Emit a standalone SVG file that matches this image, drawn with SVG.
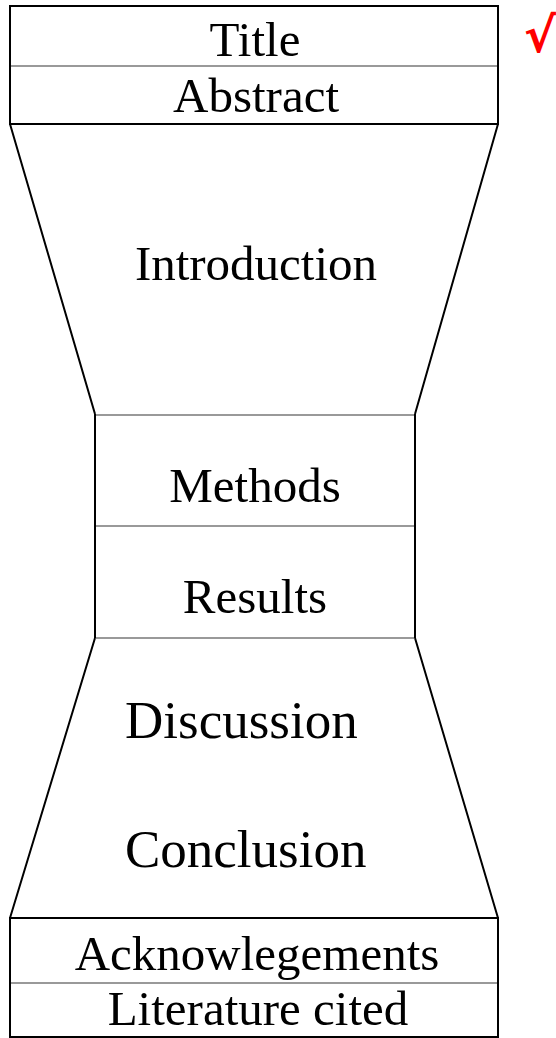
<svg xmlns="http://www.w3.org/2000/svg" width="556" height="1038" viewBox="0 0 556 1038">
<style>
.b{fill:none;stroke:#000;stroke-width:2}
.g{stroke:#999;stroke-width:2}
text{font-family:"Liberation Serif","Times New Roman",serif;font-size:49px;fill:#000}
.m{text-anchor:middle}
.ck{font-family:"DejaVu Sans","Liberation Sans",sans-serif;font-size:48px;font-weight:bold;fill:#f00}
</style>
<rect width="556" height="1038" fill="#fff"/>
<g id="top">
<rect class="b" x="10" y="6" width="488" height="118"/>
<line class="g" x1="11" y1="66" x2="497" y2="66"/>
<text class="m" x="255" y="56">Title</text>
<text class="m" x="256" y="112">Abstract</text>
</g>
<g id="introduction">
<path class="b" d="M10,124 L95,414 M498,124 L415,414"/>
<text class="m" x="256" y="280">Introduction</text>
</g>
<g id="middle">
<line class="b" x1="95" y1="414" x2="95" y2="638"/>
<line class="b" x1="415" y1="414" x2="415" y2="638"/>
<line class="g" x1="96" y1="415" x2="414" y2="415"/>
<line class="g" x1="96" y1="526" x2="414" y2="526"/>
<line class="g" x1="96" y1="638" x2="414" y2="638"/>
<text class="m" x="255" y="502">Methods</text>
<text class="m" x="255" y="613">Results</text>
</g>
<g id="discussion">
<path class="b" d="M95,638 L10,918 M415,638 L498,918"/>
<text x="125" y="738" style="font-size:53px">Discussion</text>
<text x="125" y="867" style="font-size:53px">Conclusion</text>
</g>
<g id="bottom">
<rect class="b" x="10" y="918" width="488" height="119"/>
<line class="g" x1="11" y1="983" x2="497" y2="983"/>
<text class="m" x="257" y="970">Acknowlegements</text>
<text class="m" x="258" y="1025">Literature cited</text>
</g>
<g id="check">
<text class="ck" x="524" y="52">√</text>
</g>
</svg>
